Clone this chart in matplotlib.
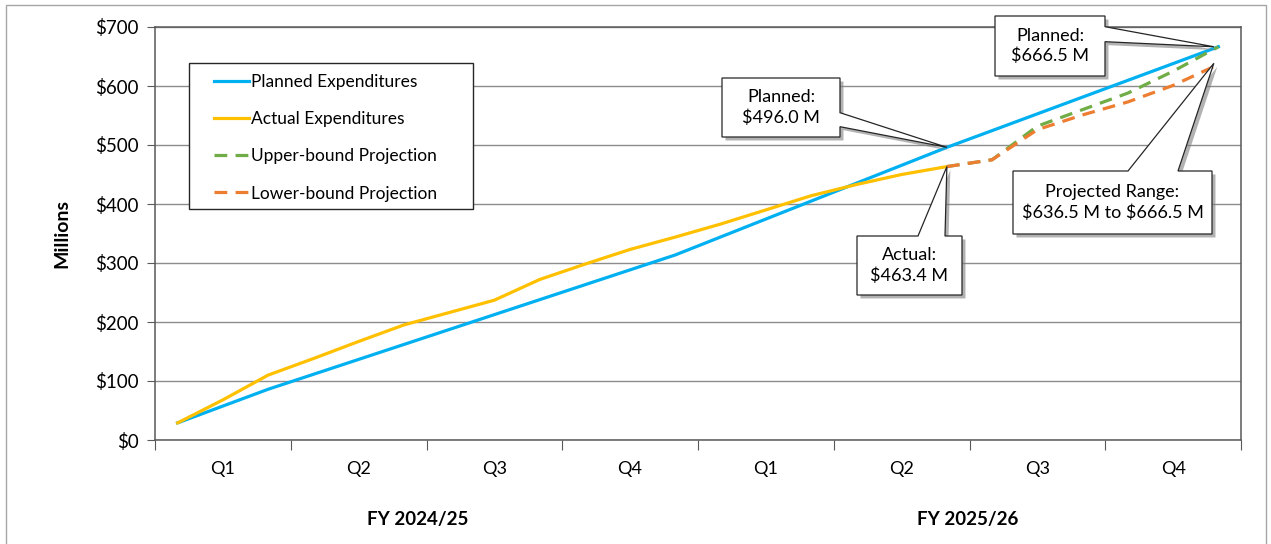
import numpy as np
import matplotlib
matplotlib.use('Agg')
import matplotlib.pyplot as plt
import matplotlib.patheffects as pe
from matplotlib.patches import Polygon, Rectangle
from matplotlib.lines import Line2D

plt.rcParams['font.family'] = ['Lato', 'DejaVu Sans']
plt.rcParams['text.parse_math'] = False

# data (millions $), one point per month
quarters = ['Q1', 'Q2', 'Q3', 'Q4', 'Q1', 'Q2', 'Q3', 'Q4']
fiscal_years = ['FY 2024/25', 'FY 2025/26']
yticks = [0, 100, 200, 300, 400, 500, 600, 700]

planned = [29, 57.5, 86, 111.3, 136.6, 161.9, 187.2, 212.5, 237.8, 263.1, 288.4, 313.7,
           344.1, 374.5, 404.9, 435.3, 465.6, 496.0, 524.4, 552.8, 581.2, 609.6, 638.0, 666.5]
actual = [29, 68, 110, 138, 167, 195, 216, 237, 272, 298, 323, 344,
          366, 390, 414, 433, 450, 463.4]
upper = [463.4, 475, 532, 560, 588, 625, 666.5]
lower = [463.4, 475, 526, 551, 573, 601, 636.5]

labels = ['Planned Expenditures', 'Actual Expenditures',
          'Upper-bound Projection', 'Lower-bound Projection']
colors = ['#00B0F0', '#FFC000', '#70AD47', '#ED7D31']

months = np.arange(len(planned))
proj_months = months[len(actual) - 1:]

W, H = 1271, 544
L, R, T, B = 155, 1241, 27, 440   # plot area in pixels

fig = plt.figure(figsize=(W / 100, H / 100), dpi=100)
ax = fig.add_axes([L / W, 1 - B / H, (R - L) / W, (B - T) / H])

# outer frame of the chart
fig.patches.append(Rectangle((6 / W, -0.01), 1260 / W, 1.0 - 5 / H + 0.01, transform=fig.transFigure,
                             fill=False, ec='#a6a6a6', lw=1.0))

dash = (4, 2.6)
ax.plot(months, planned, color=colors[0], lw=2.3, zorder=3)
ax.plot(months[:len(actual)], actual, color=colors[1], lw=2.3, zorder=3)
ax.plot(proj_months, upper, color=colors[2], lw=2.3, dashes=dash, zorder=3)
ax.plot(proj_months, lower, color=colors[3], lw=2.3, dashes=dash, zorder=3)

ax.set_xlim(-0.5, len(planned) - 0.5)
ax.set_ylim(0, 700)
ax.set_yticks(yticks)
ax.set_yticklabels(['$%d' % v for v in yticks])
ax.yaxis.grid(True, color='#8c8c8c', lw=1.0)
ax.set_axisbelow(True)

ax.set_xticks(np.arange(-0.5, len(planned), 3))
ax.set_xticklabels([])
ax.set_xticks(np.arange(1, len(planned), 3), minor=True)
ax.set_xticklabels(quarters, minor=True)
ax.tick_params(axis='x', which='major', length=7, color='#595959', direction='out')
ax.tick_params(axis='x', which='minor', length=0, pad=15, labelsize=13)
ax.tick_params(axis='y', length=6, color='#595959', pad=6, labelsize=13.5)
for s in ax.spines.values():
    s.set_color('#595959')
    s.set_linewidth(1.1)

ax.text(-0.086, 0.5, 'Millions', transform=ax.transAxes, rotation=90,
        ha='center', va='center', fontsize=14, fontweight='bold')
for fy, xf in zip(fiscal_years, [(418 - L) / (R - L), (968 - L) / (R - L)]):
    ax.text(xf, (B - 519) / (B - T), fy, transform=ax.transAxes,
            ha='center', va='center', fontsize=13.5, fontweight='bold')


def px2ax(px, py):
    return ((px - L) / (R - L), (B - py) / (B - T))


# legend with a hand placed frame
x0, y0 = px2ax(189, 62.7)
x1, y1 = px2ax(473, 209.3)
ax.add_patch(Rectangle((x0, y1), x1 - x0, y0 - y1, transform=ax.transAxes,
                       fc='white', ec='#262626', lw=1.0, zorder=4))
handles = [Line2D([], [], color=colors[0], lw=2.3),
           Line2D([], [], color=colors[1], lw=2.3),
           Line2D([], [], color=colors[2], lw=2.3, dashes=dash),
           Line2D([], [], color=colors[3], lw=2.3, dashes=dash)]
leg = ax.legend(handles, labels, loc='upper left', bbox_to_anchor=px2ax(214, 74),
                frameon=False, borderaxespad=0, borderpad=0, fontsize=12.5,
                handlelength=2.0, handletextpad=0.15, labelspacing=1.22)
leg.set_zorder(5)


def callout(box, base, tip, side, text):
    bx0, by0, bx1, by1 = box
    tip_ax = ax.transAxes.inverted().transform(ax.transData.transform(tip))
    if side == 'right':
        pts = [(bx0, by0), (bx1, by0), (bx1, base[0]), None, (bx1, base[1]), (bx1, by1), (bx0, by1)]
    else:
        pts = [(bx0, by0), (base[0], by0), None, (base[1], by0), (bx1, by0), (bx1, by1), (bx0, by1)]
    verts = [tuple(tip_ax) if p is None else px2ax(*p) for p in pts]
    poly = Polygon(verts, closed=True, transform=ax.transAxes, fc='white', ec='#262626',
                   lw=0.9, clip_on=False, zorder=6,
                   path_effects=[pe.withSimplePatchShadow(offset=(2.5, -2.5),
                                                          shadow_rgbFace='#808080', alpha=0.6)])
    ax.add_patch(poly)
    cx, cy = px2ax((bx0 + bx1) / 2, (by0 + by1) / 2)
    ax.text(cx, cy, text, transform=ax.transAxes, ha='center', va='center',
            fontsize=13, linespacing=1.3, zorder=7, clip_on=False)


callout((722, 78, 840, 137), (112.7, 126.7), (17, planned[17]), 'right',
        'Planned:\n$%.1f M' % planned[17])
callout((857, 236, 962, 295), (918, 945), (17, actual[-1]), 'top',
        'Actual:\n$%.1f M' % actual[-1])
callout((995, 16, 1105, 76), (26.7, 41.7), (22.9, planned[-1]), 'right',
        'Planned:\n$%.1f M' % planned[-1])
callout((1013, 171, 1212, 234), (1128, 1178), (22.9, lower[-1] + 2), 'top',
        'Projected Range:\n$%.1f M to $%.1f M' % (lower[-1], upper[-1]))

fig.savefig('out.png', dpi=100)
